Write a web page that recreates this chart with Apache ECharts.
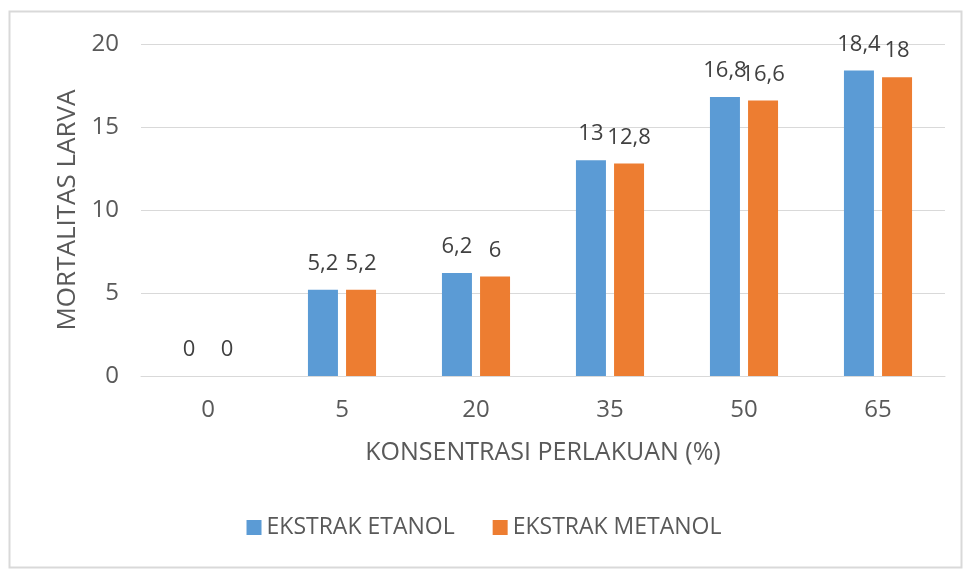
<!DOCTYPE html>
<html>
<head>
<meta charset="utf-8">
<script src="https://cdn.jsdelivr.net/npm/echarts@6/dist/echarts.min.js"></script>
<style>
  html, body { margin: 0; padding: 0; background: #fff; }
  #chart { width: 968px; height: 570px; }
</style>
</head>
<body>
<div id="chart"></div>
<script>
// data
var categories = ['0', '5', '20', '35', '50', '65'];
var etanol = [0, 5.2, 6.2, 13, 16.8, 18.4];
var metanol = [0, 5.2, 6, 12.8, 16.6, 18];
var seriesNames = ['EKSTRAK ETANOL', 'EKSTRAK METANOL'];

var font = '"Open Sans", "Liberation Sans", sans-serif';
var textColor = '#595959';

// comma as decimal separator
function fmt(p) {
  return String(p.value).replace('.', ',');
}

var chart = echarts.init(document.getElementById('chart'));
var option = {
  animation: false,
  textStyle: { fontFamily: font },
  graphic: [{
    type: 'rect',
    shape: { x: 9.5, y: 11.5, width: 952, height: 556 },
    style: { fill: 'none', stroke: '#d9d9d9', lineWidth: 2 },
    silent: true
  }],
  grid: { left: 141, right: 23, top: 44, bottom: 194 },
  legend: {
    data: seriesNames,
    bottom: 26,
    left: 'center',
    itemWidth: 15,
    itemHeight: 15,
    itemGap: 38,
    icon: 'rect',
    textStyle: { color: textColor, fontSize: 23, fontFamily: font }
  },
  xAxis: {
    type: 'category',
    data: categories,
    name: 'KONSENTRASI PERLAKUAN (%)',
    nameLocation: 'middle',
    nameGap: 64,
    nameTextStyle: { color: textColor, fontSize: 25, fontFamily: font },
    axisLine: { lineStyle: { color: '#d9d9d9', width: 1 } },
    axisTick: { show: false },
    axisLabel: { color: textColor, fontSize: 24, margin: 22, fontFamily: font }
  },
  yAxis: {
    type: 'value',
    min: 0,
    max: 20,
    interval: 5,
    name: 'MORTALITAS LARVA',
    nameLocation: 'middle',
    nameGap: 58,
    nameTextStyle: { color: textColor, fontSize: 26, fontFamily: font },
    axisLine: { show: false },
    axisTick: { show: false },
    axisLabel: { color: textColor, fontSize: 24, margin: 22, fontFamily: font },
    splitLine: { lineStyle: { color: '#d9d9d9', width: 1 } }
  },
  series: [
    {
      name: seriesNames[0],
      type: 'bar',
      data: etanol,
      barWidth: 30,
      barGap: '27%',
      itemStyle: { color: '#5b9bd5' },
      label: {
        show: true,
        position: 'top',
        distance: 15,
        color: '#404040',
        fontSize: 22,
        fontFamily: font,
        formatter: fmt
      }
    },
    {
      name: seriesNames[1],
      type: 'bar',
      data: metanol,
      barWidth: 30,
      barGap: '27%',
      itemStyle: { color: '#ed7d31' },
      label: {
        show: true,
        position: 'top',
        distance: 15,
        color: '#404040',
        fontSize: 22,
        fontFamily: font,
        formatter: fmt
      }
    }
  ]
};
chart.setOption(option);
</script>
</body>
</html>
